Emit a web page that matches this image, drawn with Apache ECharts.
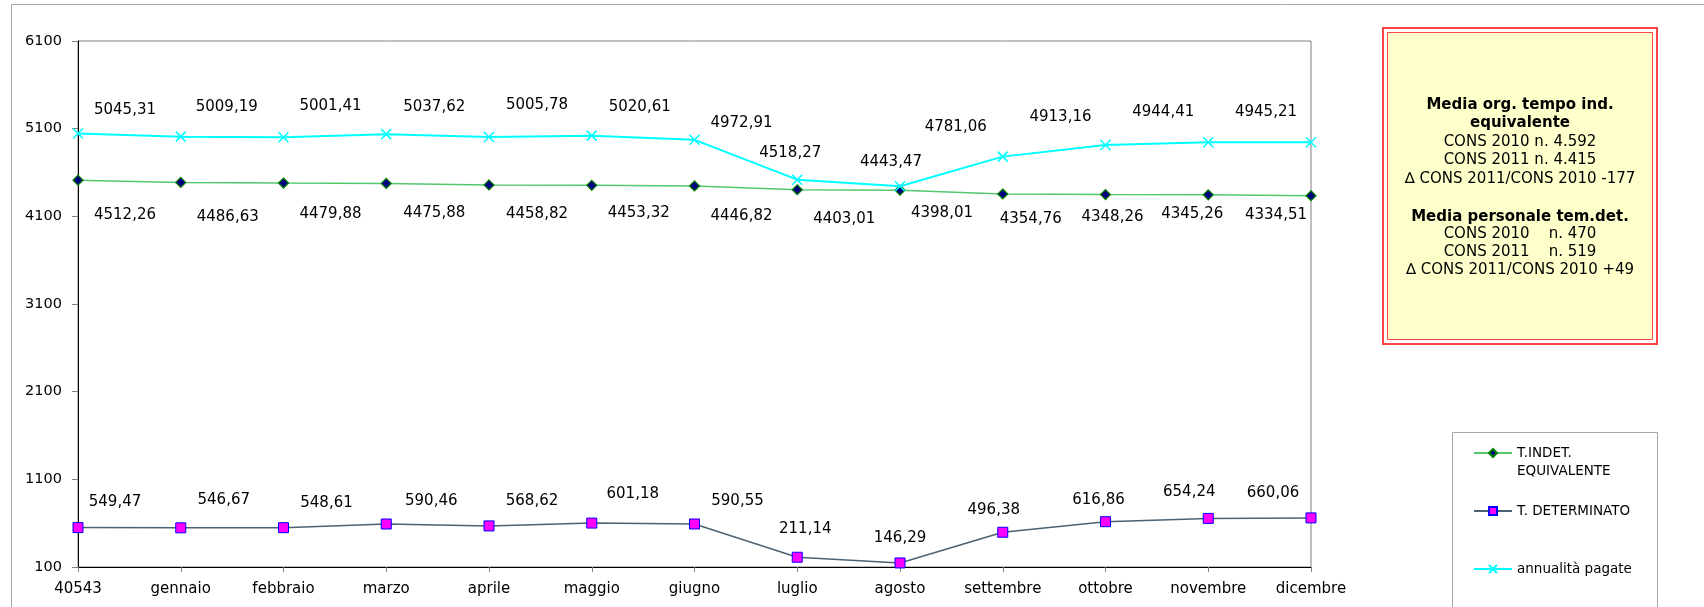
<!DOCTYPE html>
<html>
<head>
<meta charset="utf-8">
<script src="https://cdn.jsdelivr.net/npm/echarts@6/dist/echarts.min.js"></script>
<style>
html,body{margin:0;padding:0;background:#fff;}
#chart{width:1704px;height:607px;}
</style>
</head>
<body>
<div id="chart"></div>
<script>
// ---- data ----
const categories = ['40543','gennaio','febbraio','marzo','aprile','maggio','giugno','luglio','agosto','settembre','ottobre','novembre','dicembre'];
const tIndet = [4512.26,4486.63,4479.88,4475.88,4458.82,4453.32,4446.82,4403.01,4398.01,4354.76,4348.26,4345.26,4334.51];
const tDeterminato = [549.47,546.67,548.61,590.46,568.62,601.18,590.55,211.14,146.29,496.38,616.86,654.24,660.06];
const annualita = [5045.31,5009.19,5001.41,5037.62,5005.78,5020.61,4972.91,4518.27,4443.47,4781.06,4913.16,4944.41,4945.21];
const seriesNames = ['T.INDET. EQUIVALENTE','T. DETERMINATO','annualità pagate'];
const yTicks = {min:100, max:6100, step:1000};
const boxLines = [
  {t:'Media org. tempo ind.', b:true},
  {t:'equivalente', b:true},
  {t:'CONS 2010 n. 4.592', b:false},
  {t:'CONS 2011 n. 4.415', b:false},
  {t:'\u2206 CONS 2011/CONS 2010 -177', b:false},
  {t:'Media personale tem.det.', b:true},
  {t:'CONS 2010    n. 470', b:false},
  {t:'CONS 2011    n. 519', b:false},
  {t:'\u2206 CONS 2011/CONS 2010 +49', b:false}
];

// ---- layout (label offsets in px, as placed in the original) ----
const offIndet = [[47,35],[47,35],[47,31],[48,30],[48,29],[47,28],[47,30],[47,29],[42,23],[28,25],[7,23],[-16,19],[-35,19]];
const offDet = [[37,-25],[43,-28],[43,-25],[45,-23],[43,-25],[41,-29],[43,-23],[8,-28],[0,-25],[-9,-22],[-7,-22],[-19,-26],[-38,-25]];
const offAnn = [[47,-23],[46,-30],[47,-31],[48,-27],[48,-32],[48,-29],[47,-17],[-7,-27],[-9,-24],[-47,-30],[-45,-28],[-45,-30],[-45,-30]];
const boxLineY = [105,123,142,160,179,217,234,252,270];

const FONT = 'DejaVu Sans';

function mk(values, offs){
  return values.map((v,i)=>({value:v, label:{offset:offs[i]}}));
}
function fmt(p){ return p.value.toFixed(2).replace('.', ','); }

const labelBase = {show:true, position:'inside', formatter:fmt, color:'#000', fontSize:15, fontFamily:FONT};

const chart = echarts.init(document.getElementById('chart'), null, {renderer:'canvas'});

const graphics = [
  {type:'rect', shape:{x:11.5,y:4.5,width:1800,height:800}, style:{fill:'none',stroke:'#a6a6a6',lineWidth:1}, silent:true, z:-10},
  {type:'rect', shape:{x:1383,y:28,width:274,height:316}, style:{fill:'#fff',stroke:'#ff4444',lineWidth:2}, silent:true},
  {type:'rect', shape:{x:1387.5,y:32.5,width:265,height:307}, style:{fill:'#ffffcc',stroke:'#ff4444',lineWidth:1}, silent:true},
  {type:'rect', shape:{x:1452.5,y:432.5,width:205,height:300}, style:{fill:'#fff',stroke:'#a6a6a6',lineWidth:1}, silent:true, z:-1}
];
boxLines.forEach((l,i)=>{
  graphics.push({type:'text', x:1520, y:boxLineY[i], silent:true, style:{text:l.t, align:'center', verticalAlign:'middle', fill:'#000', fontSize:15, fontFamily:FONT, fontWeight:l.b?'bold':'normal'}});
});

const legendText = {fontSize:13.5, fontFamily:FONT, color:'#000', lineHeight:18};
const legendCommon = {orient:'vertical', left:1473, padding:0, itemWidth:38, itemHeight:10, selectedMode:false, textStyle:legendText};

chart.setOption({
  animation:false,
  backgroundColor:'#fff',
  graphic:graphics,
  legend:[
    Object.assign({}, legendCommon, {top:426, data:[seriesNames[0]], formatter:()=>' \nT.INDET.\nEQUIVALENTE'}),
    Object.assign({}, legendCommon, {top:502, data:[seriesNames[1]]}),
    Object.assign({}, legendCommon, {top:560, data:[seriesNames[2]]})
  ],
  grid:{left:78, right:393, top:41, bottom:40, show:true, borderColor:'#808080', borderWidth:1, backgroundColor:'transparent'},
  xAxis:{type:'category', data:categories, boundaryGap:false,
    axisLine:{lineStyle:{color:'#000',width:1}},
    axisTick:{show:true, alignWithLabel:true, length:5, lineStyle:{color:'#808080'}},
    axisLabel:{color:'#000', fontSize:15, fontFamily:FONT, margin:15, interval:0},
    splitLine:{show:false}},
  yAxis:{type:'value', min:yTicks.min, max:yTicks.max, interval:yTicks.step,
    axisLine:{show:true, lineStyle:{color:'#000',width:1}},
    axisTick:{show:true, length:6, lineStyle:{color:'#808080'}},
    axisLabel:{color:'#000', fontSize:14.5, fontFamily:FONT, margin:16, formatter:(v)=>String(v)},
    splitLine:{show:false}},
  series:[
    {name:seriesNames[0], type:'line', data:mk(tIndet, offIndet), symbol:'diamond', symbolSize:10,
      lineStyle:{color:'#55c86e', width:1.5}, itemStyle:{color:'#000080', borderColor:'#008000', borderWidth:1.2},
      label:labelBase, emphasis:{disabled:true}, z:3},
    {name:seriesNames[1], type:'line', data:mk(tDeterminato, offDet), symbol:'rect', symbolSize:10,
      lineStyle:{color:'#4a6272', width:1.5}, itemStyle:{color:'#ff00ff', borderColor:'#0000ff', borderWidth:1},
      label:labelBase, emphasis:{disabled:true}, z:3},
    {name:seriesNames[2], type:'line', data:mk(annualita, offAnn), symbol:'path://M0,0L10,10M10,0L0,10', symbolSize:10,
      lineStyle:{color:'#00ffff', width:2}, itemStyle:{color:'#00ffff', borderColor:'#00ffff', borderWidth:1.5},
      label:labelBase, emphasis:{disabled:true}, z:4}
  ]
});
</script>
</body>
</html>
